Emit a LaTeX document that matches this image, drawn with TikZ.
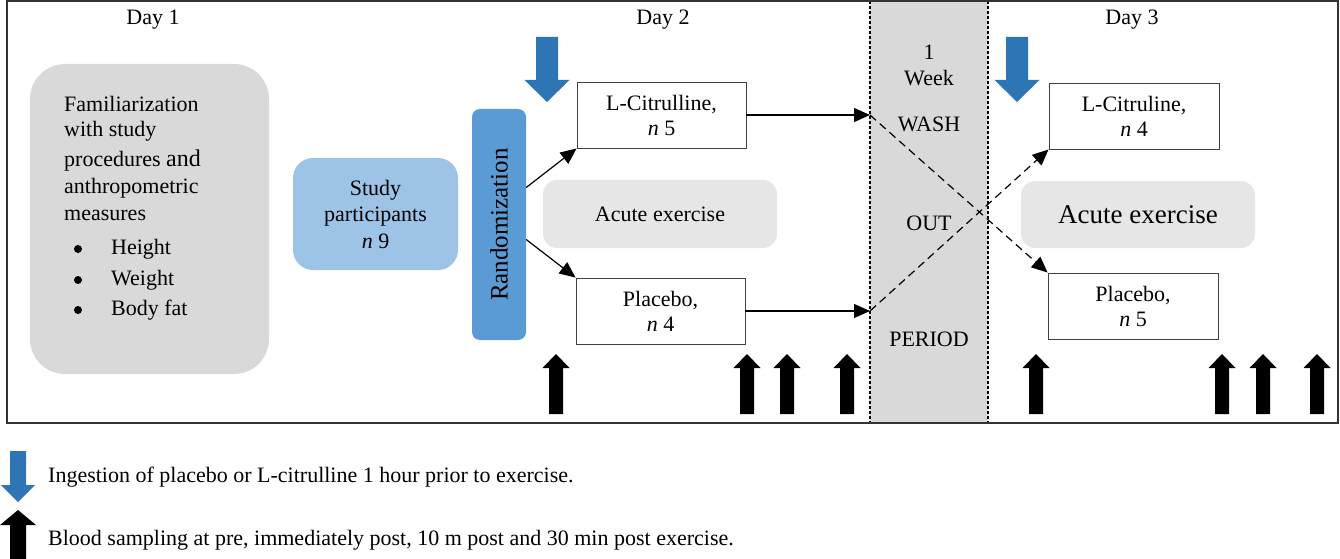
\documentclass[tikz,border=0pt]{standalone}
\usepackage{fontspec}
\setmainfont{Liberation Serif}
\usetikzlibrary{calc,arrows.meta}
\definecolor{ingest}{HTML}{2E75B6}
\definecolor{randblue}{HTML}{5B9BD5}
\definecolor{partblue}{HTML}{9DC3E6}
\definecolor{boxgray}{HTML}{D9D9D9}
\definecolor{exgray}{HTML}{E7E6E6}
\def\fs{\fontsize{22}{25}\selectfont}

\begin{document}
\begin{tikzpicture}[x=1pt,y=-1pt,font=\fs]
\tikzstyle{txt}=[inner sep=0pt]
\tikzstyle{group}=[draw=black!75,line width=0.9pt,minimum width=170pt,minimum height=66pt,align=center,inner sep=0pt]
\tikzstyle{exercise}=[fill=exgray,rounded corners=14pt,minimum width=234pt,minimum height=68pt,inner sep=0pt]
\tikzstyle{link}=[line width=1.2pt,-{Triangle[length=16pt,width=14pt]}]
\tikzstyle{cross}=[link,dash pattern=on 8pt off 5pt]
\tikzstyle{sep}=[line width=1.1pt,dash pattern=on 3pt off 2pt]

\useasboundingbox (0,0) rectangle (1340,559);

\fill [boxgray] (870,1) rectangle (988,423);
\draw [sep] (870,1) -- (870,423);
\draw [sep] (988,1) -- (988,423);
\draw [line width=1.4pt, black!80] (7,1) rectangle (1338,423);

\node (day1) [txt] at (153,20) {Day 1};
\node (day2) [txt] at (663,20) {Day 2};
\node (day3) [txt] at (1132,20) {Day 3};

% day 1
\node (fam) [fill=boxgray,rounded corners=35pt,minimum width=239pt,minimum height=310pt] at (149.5,219) {};
\node (fam1) [txt,anchor=west] at (64,104) {Familiarization};
\node (fam2) [txt,anchor=west] at (64,131) {with study};
\node (fam3) [txt,anchor=west] at (64,161) {procedures {\fontsize{24}{25}\selectfont and}};
\node (fam4) [txt,anchor=west] at (64,188) {anthropometric};
\node (fam5) [txt,anchor=west] at (64,215) {measures};
\foreach \y/\t [count=\i] in {249/Height,280/Weight,310/Body fat} {
  \fill (78,\y) circle (4pt);
  \node (item\i) [txt,anchor=west] at (111,\y) {\t};
}

\node (part) [fill=partblue,rounded corners=20pt,minimum width=165pt,minimum height=112pt,align=center,font=\fontsize{22}{26.5}\selectfont] at (375.5,214) {Study\\participants\\\textit{n} 9};
\node (rand) [fill=randblue,rounded corners=8pt,minimum width=54pt,minimum height=231pt,inner sep=0pt] at (499,224.5) {\rotatebox{90}{\fontsize{25}{25}\selectfont Randomization}};

% day 2
\node (lcit2) [group,minimum width=169pt] at (661.5,115) {L-Citrulline,\\\textit{n} 5};
\node (plac2) [group,minimum width=169pt] at (660.5,311) {Placebo,\\\textit{n} 4};
\node (acute2) [exercise] at (660,214) {Acute exercise};

\draw [link] ([yshift=37pt]rand.east) -- (lcit2.south west);
\draw [link] ([yshift=-15pt]rand.east) -- (plac2.north west);

% wash out
\node (wk1) [txt] at (929,52) {1};
\node (wk2) [txt] at (929,78) {Week};
\node (wash) [txt] at (929,124) {WASH};
\node (out) [txt] at (929,223) {OUT};
\node (period) [txt] at (929,339) {PERIOD};
\coordinate (w1) at (870,115);
\coordinate (w2) at (870,311);

% day 3
\node (lcit3) [group] at (1134,116) {L-Citruline,\\\textit{n} 4};
\node (plac3) [group] at (1133,306) {Placebo,\\\textit{n} 5};
\node (acute3) [exercise,font=\fontsize{27}{27}\selectfont,minimum height=67pt] at (1138,214.5) {Acute exercise};

\draw [link] (lcit2.east) -- (w1);
\draw [link] (plac2.east) -- (w2);
\draw [cross] (w1) -- (plac3.north west);
\draw [cross] (w2) -- (lcit3.south west);

\foreach \x in {547,1017}
  \fill [ingest] (\x-11,37) -- (\x+11,37) -- (\x+11,80) -- (\x+22.5,80) -- (\x,102) -- (\x-22.5,80) -- (\x-11,80) -- cycle;
\foreach \x in {556,747,787,847,1036,1222,1263,1317}
  \fill (\x-7,414) -- (\x-7,368) -- (\x-13.5,368) -- (\x,354) -- (\x+13.5,368) -- (\x+7,368) -- (\x+7,414) -- cycle;

% legend
\fill [ingest] (10,451) -- (26,451) -- (26,485) -- (35,485) -- (18,502) -- (1,485) -- (10,485) -- cycle;
\fill (18,510) -- (36,525) -- (26,525) -- (26,559) -- (10,559) -- (10,525) -- (0,525) -- cycle;
\node (ing) [txt,anchor=west] at (48,477) {Ingestion of placebo or L-citrulline 1 hour prior to exercise.};
\node (blood) [txt,anchor=west] at (48,540) {Blood sampling at pre, immediately post, 10 m post and 30 min post exercise.};

\end{tikzpicture}
\end{document}
